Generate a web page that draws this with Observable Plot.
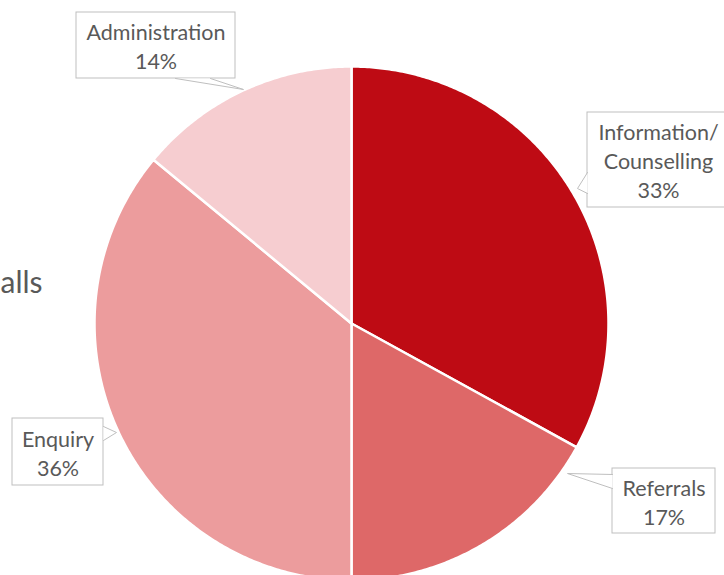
<!DOCTYPE html>
<html><head><meta charset="utf-8">
<script src="https://cdn.jsdelivr.net/npm/d3@7"></script>
<script src="https://cdn.jsdelivr.net/npm/@observablehq/plot@0.6"></script>
<style>body{margin:0;background:#fff;overflow:hidden}</style>
</head><body><div id="chart"></div>
<script>
// ---- data ----
const categories = ["Information/\nCounselling", "Referrals", "Enquiry", "Administration"];
const shares = [33, 17, 36, 14];
const colors = ["#BE0B14", "#DE6868", "#EC9C9D", "#F6CDD0"];
const titleFragment = "alls";

// ---- layout (pixels) ----
const W = 724, H = 575, cx = 351, cy = 323, R = 257;
const boxes = [
  {x1: 587, x2: 740, y1: 112, y2: 207, tx: 658, ty: 159.5, wedge: [[587,172],[577,188],[587,193]]},
  {x1: 612, x2: 715, y1: 468, y2: 533, tx: 663.5, ty: 500.5, wedge: [[612,474],[567,473],[612,488]]},
  {x1: 12, x2: 103, y1: 418, y2: 485, tx: 57.5, ty: 451.5, wedge: [[103,426],[116,432],[103,440]]},
  {x1: 76, x2: 235, y1: 12, y2: 78, tx: 155.5, ty: 45, wedge: [[175,78],[243,89],[210,78]]}
];

const slices = d3.pie().sort(null).value(d => d.v)(categories.map((c, i) => ({name: c, v: shares[i]})));
const piePts = [];
for (const s of slices) {
  piePts.push({name: s.data.name, x: cx, y: cy});
  const n = Math.max(2, Math.ceil((s.endAngle - s.startAngle) / (Math.PI / 360)));
  for (let k = 0; k <= n; k++) {
    const a = s.startAngle + (s.endAngle - s.startAngle) * k / n;
    piePts.push({name: s.data.name, x: cx + R * Math.sin(a), y: cy - R * Math.cos(a)});
  }
}
const wedgePts = [];
boxes.forEach((b, i) => b.wedge.forEach(p => wedgePts.push({id: i, x: p[0], y: p[1]})));
const labelData = boxes.map((b, i) => ({...b, text: categories[i] + "\n" + shares[i] + "%"}));

const font = "Lato, 'Open Sans', sans-serif";
const chart = Plot.plot({
  width: W, height: H, margin: 0,
  x: {domain: [0, W], range: [0, W], axis: null},
  y: {domain: [0, H], range: [0, H], axis: null},
  color: {domain: categories, range: colors},
  style: {background: "#fff", overflow: "hidden"},
  marks: [
    Plot.line(piePts, {x: "x", y: "y", z: "name", fill: "name", stroke: "#fff", strokeWidth: 2.5, strokeLinejoin: "round", curve: "linear-closed"}),
    Plot.text([titleFragment], {x: 0, y: 292, text: d => d, textAnchor: "start", lineAnchor: "bottom", fontSize: 30, fontFamily: font, fill: "#595959"}),
    Plot.rect(labelData, {x1: "x1", x2: "x2", y1: "y1", y2: "y2", fill: "#fff", stroke: "#BFBFBF", strokeWidth: 1}),
    Plot.line(wedgePts, {x: "x", y: "y", z: "id", fill: "#fff", stroke: "#BFBFBF", strokeWidth: 1}),
    Plot.text(labelData, {x: "tx", y: "ty", text: "text", fontSize: 21.5, lineHeight: 1.35, fontFamily: font, fill: "#595959"})
  ]
});
document.getElementById("chart").append(chart);
</script>
</body></html>
